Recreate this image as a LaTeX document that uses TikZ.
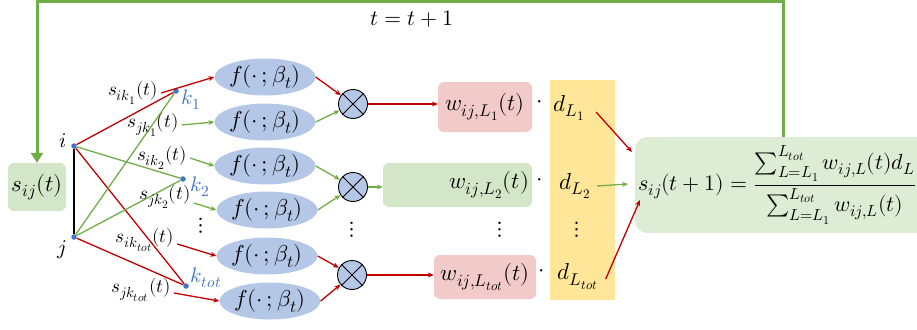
\documentclass[tikz,border=0pt]{standalone}
\usepackage{unicode-math}
\setmathfont{Latin Modern Math}
\DeclareMathSizes{23}{23}{17}{13}
\DeclareMathSizes{19}{19}{14.5}{11.5}
\DeclareMathSizes{22}{22}{16}{12}
\DeclareMathSizes{21}{21}{15.5}{12}
\usetikzlibrary{shapes.geometric,arrows.meta}
\definecolor{cred}{HTML}{C00000}
\definecolor{cgreen}{HTML}{70AD47}
\definecolor{cblue}{HTML}{4472C4}
\definecolor{cell}{HTML}{B4C7E7}
\definecolor{cpink}{HTML}{F2CACA}
\definecolor{clgreen}{HTML}{D3E6C7}
\definecolor{cfgreen}{HTML}{DDEDD5}
\definecolor{cyel}{HTML}{FFE699}
\tikzset{
 big/.style={font=\fontsize{23}{27}\selectfont},
 lab/.style={font=\fontsize{19}{23}\selectfont, inner sep=1pt},
 nlab/.style={font=\fontsize{21}{25}\selectfont, inner sep=0pt},
 fell/.style={ellipse, fill=cell, minimum width=85pt, minimum height=37pt, inner sep=0pt, big},
 mul/.style={circle, fill=cell, draw=black, line width=0.9pt, minimum size=29pt, inner sep=0pt},
 dotn/.style={circle, fill=cblue, inner sep=0pt, minimum size=5.5pt},
 rarr/.style={draw=cred, line width=1.3pt, -{Stealth[length=6pt,width=5pt]}},
 garr/.style={draw=cgreen, line width=1.3pt, -{Stealth[length=6pt,width=5pt]}},
 rl/.style={draw=cred, line width=1.3pt},
 gl/.style={draw=cgreen, line width=1.3pt},
 wbox/.style={rounded corners=6pt, inner sep=0pt, big},
 fbox/.style={rounded corners=12pt, fill=cfgreen, minimum height=96pt, inner xsep=3pt, text width=340pt, align=left, font=\fontsize{22}{26}\selectfont},
}
\begin{document}
\begin{tikzpicture}[x=1pt,y=-1pt]
\useasboundingbox (0,0) rectangle (917,329);
\clip (0,0) rectangle (917,329);
% yellow column
\fill[cyel] (550,80) rectangle (615,300);
% s_ij box
\node[wbox, fill=clgreen, minimum width=58pt, minimum height=48pt] (sij) at (37,187) {$s_{ij}(t)$};
% nodes i, j, k
\node[dotn] (i) at (74,146) {};
\node[dotn] (j) at (74,237) {};
\node[dotn] (k1) at (176,91) {};
\node[dotn] (k2) at (183,179) {};
\node[dotn] (kt) at (186,286) {};
\node[nlab] (il) at (63,141) {$i$};
\node[nlab] (jl) at (62,250) {$j$};
\node[nlab, text=cblue] (k1l) at (191,100) {$k_1$};
\node[nlab, text=cblue] (k2l) at (200,187) {$k_2$};
\node[nlab, text=cblue] (ktl) at (206,278) {$k_{tot}$};
\draw[black, line width=1.6pt] (i) -- (j);
\draw[rl] (i) -- (k1);
\draw[gl] (i) -- (k2);
\draw[rl] (i) -- (kt);
\draw[gl] (j) -- (k1);
\draw[gl] (j) -- (k2);
\draw[rl] (j) -- (kt);
% ellipses
\node[fell] (f1) at (265,77) {$f(\cdot\,;\beta_t)$};
\node[fell] (f2) at (265,122) {$f(\cdot\,;\beta_t)$};
\node[fell] (f3) at (265,166) {$f(\cdot\,;\beta_t)$};
\node[fell] (f4) at (267,210) {$f(\cdot\,;\beta_t)$};
\node[fell] (f5) at (267,256) {$f(\cdot\,;\beta_t)$};
\node[fell] (f6) at (270,301) {$f(\cdot\,;\beta_t)$};
% edge labels
\node[lab] (la1) at (133,93) {$s_{ik_1}(t)$};
\node[lab] (la2) at (153,125) {$s_{jk_1}(t)$};
\node[lab] (la3) at (162,158) {$s_{ik_2}(t)$};
\node[lab] (la4) at (165,197) {$s_{jk_2}(t)$};
\node[lab] (la5) at (145,240) {$s_{ik_{tot}}(t)$};
\node[lab] (la6) at (141,290) {$s_{jk_{tot}}(t)$};
\node[big] (vd1) at (201,226) {$\vdots$};
\draw[rarr] ([xshift=2pt]la1.east) -- (f1.west);
\draw[garr] ([xshift=2pt]la2.east) -- (f2.west);
\draw[garr] ([xshift=2pt]la3.east) -- (f3.west);
\draw[garr] ([xshift=2pt,yshift=-6pt]la4.east) -- (f4.west);
\draw[rarr] ([xshift=2pt,yshift=-4pt]la5.east) -- (f5.west);
\draw[rarr] ([xshift=2pt,yshift=-3pt]la6.east) -- (f6.west);
% multipliers
\node[mul] (c1) at (353,104) {};
\node[mul] (c2) at (353,187) {};
\node[mul] (c3) at (352,275) {};
\foreach \c in {c1,c2,c3}{
  \draw[line width=0.9pt] (\c.north west) -- (\c.south east);
  \draw[line width=0.9pt] (\c.north east) -- (\c.south west);
}
\node[big] (vd2) at (352,230) {$\vdots$};
\draw[rarr] (f1.east) -- (c1);
\draw[garr] (f2.east) -- (c1);
\draw[garr] (f3.east) -- (c2);
\draw[garr] (f4.east) -- (c2);
\draw[rarr] (f5.east) -- (c3);
\draw[rarr] (f6.east) -- (c3);
% weight boxes
\node[wbox, fill=cpink, minimum width=94pt, minimum height=50pt] (w1) at (485,107) {$w_{ij,L_1}(t)$};
\node[wbox, fill=clgreen, text width=143pt, inner xsep=3pt, minimum height=44pt, align=right] (w2) at (457.5,185) {$w_{ij,L_2}(t)$};
\node[wbox, fill=cpink, minimum width=102pt, minimum height=44pt] (w3) at (485,277) {$w_{ij,L_{tot}}(t)$};
\node[big] (vd3) at (500,230) {$\vdots$};
\draw[rarr] (c1.east) -- (c1.east -| w1.west);
\draw[garr] (c2.east) -- (c2.east -| w2.west);
\draw[rarr] (c3.east) -- (c3.east -| w3.west);
% products
\node[big] (p1) at (540,104) {$\cdot$};
\node[big] (p2) at (540,182) {$\cdot$};
\node[big] (p3) at (542,273) {$\cdot$};
\node[big] (d1) at (569,108) {$d_{L_1}$};
\node[big] (d2) at (575,186) {$d_{L_2}$};
\node[big] (vd4) at (577,230) {$\vdots$};
\node[big] (d3) at (578,277) {$d_{L_{tot}}$};
% formula
\node[fbox, anchor=west] (F) at (635,185) {$\displaystyle s_{ij}(t+1)=\frac{\sum_{L=L_1}^{L_{tot}} w_{ij,L}(t)d_L}{\sum_{L=L_1}^{L_{tot}} w_{ij,L}(t)}$};
\coordinate (e1) at (632,152);
\coordinate (e2) at (628,184);
\coordinate (e3) at (640,200);
\draw[rarr] ([xshift=8pt,yshift=-4pt]d1.east) -- (e1);
\draw[garr] ([xshift=3pt]d2.east) -- (e2);
\draw[rarr] ([xshift=4pt,yshift=-2pt]d3.east) -- (e3);
% feedback loop
\coordinate (Ftop) at (783,137);
\draw[draw=cgreen, line width=3pt, -{Triangle[length=10pt,width=12pt]}] (Ftop) -- ++(0,-135) -| (sij.north);
\node[font=\fontsize{22}{26}\selectfont] (tl) at (412,19) {$t=t+1$};
\end{tikzpicture}
\end{document}
